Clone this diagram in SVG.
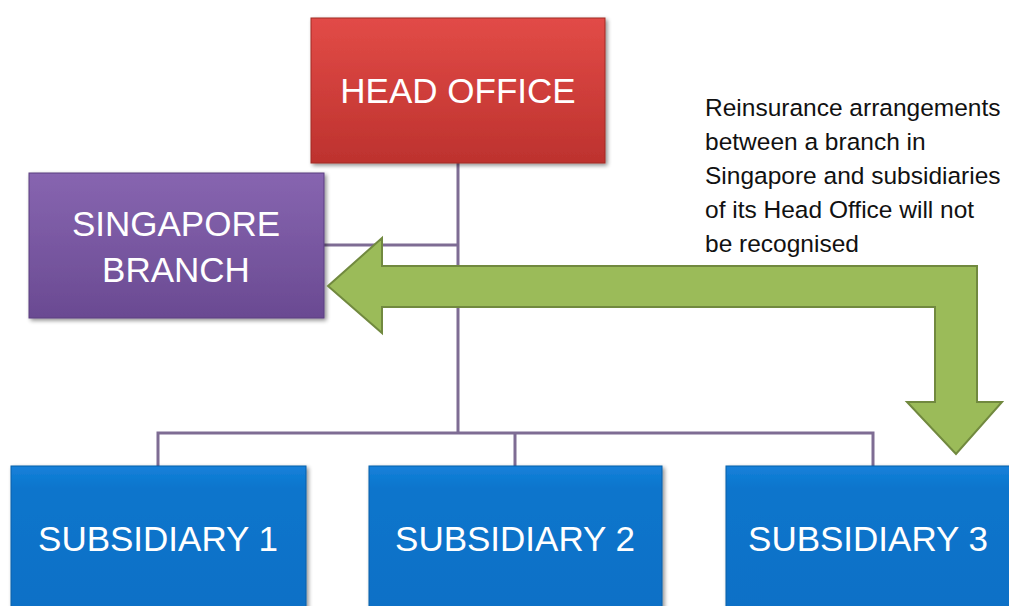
<svg xmlns="http://www.w3.org/2000/svg" width="1009" height="606" viewBox="0 0 1009 606">
<defs>
<linearGradient id="gRed" x1="0" y1="0" x2="0" y2="1"><stop offset="0" stop-color="#E24B47"/><stop offset="1" stop-color="#BD322E"/></linearGradient>
<linearGradient id="gPur" x1="0" y1="0" x2="0" y2="1"><stop offset="0" stop-color="#8765B0"/><stop offset="1" stop-color="#6A4A92"/></linearGradient>
<linearGradient id="gBlue" x1="0" y1="0" x2="0" y2="1"><stop offset="0" stop-color="#1681DA"/><stop offset="0.15" stop-color="#0A75CC"/><stop offset="1" stop-color="#0870C6"/></linearGradient>
<filter id="sh" x="-10%" y="-10%" width="125%" height="125%"><feGaussianBlur in="SourceAlpha" stdDeviation="2"/><feOffset dx="2" dy="2"/><feComponentTransfer><feFuncA type="linear" slope="0.45"/></feComponentTransfer><feMerge><feMergeNode/><feMergeNode in="SourceGraphic"/></feMerge></filter>
</defs>
<style>
.box{filter:url(#sh);stroke-width:1}
.lbl{font-family:"Liberation Sans",Arial,sans-serif;font-size:35px;fill:#FFFFFF;text-anchor:middle}
.conn{fill:none;stroke:#7E6C94;stroke-width:3}
.note{font-family:"Liberation Sans",Arial,sans-serif;font-size:24.5px;fill:#111111}
</style>
<rect width="1009" height="606" fill="#FFFFFF"/>
<g id="connectors">
<path class="conn" d="M458 163 V433 M324 245 H458 M158 466 V433 H873 V466 M515 433 V466"/>
</g>
<g id="head-office">
<rect class="box" x="311" y="18" width="294" height="145" fill="url(#gRed)" stroke="#A02A27"/>
<text class="lbl" x="458" y="103">HEAD OFFICE</text>
</g>
<g id="singapore-branch">
<rect class="box" x="29" y="173" width="295" height="145" fill="url(#gPur)" stroke="#5B3F80"/>
<text class="lbl" x="176" y="236">SINGAPORE</text>
<text class="lbl" x="176" y="282">BRANCH</text>
</g>
<g id="subsidiary-1">
<rect class="box" x="11" y="466" width="295" height="150" fill="url(#gBlue)" stroke="#0A5FA8"/>
<text class="lbl" x="158" y="551">SUBSIDIARY 1</text>
</g>
<g id="subsidiary-2">
<rect class="box" x="369" y="466" width="293" height="150" fill="url(#gBlue)" stroke="#0A5FA8"/>
<text class="lbl" x="515" y="551">SUBSIDIARY 2</text>
</g>
<g id="subsidiary-3">
<rect class="box" x="726" y="466" width="294" height="150" fill="url(#gBlue)" stroke="#0A5FA8"/>
<text class="lbl" x="868" y="551">SUBSIDIARY 3</text>
</g>
<g id="arrow">
<polygon points="328,286 382,238 382,266 977,266 977,402 1002,402 956,454 907,402 935,402 935,307 382,307 382,333" fill="#9BBB59" stroke="#71893F" stroke-width="2" stroke-linejoin="miter"/>
</g>
<g id="note">
<text class="note" x="705" y="116">Reinsurance arrangements</text>
<text class="note" x="705" y="150">between a branch in</text>
<text class="note" x="705" y="184">Singapore and subsidiaries</text>
<text class="note" x="705" y="218">of its Head Office will not</text>
<text class="note" x="705" y="252">be recognised</text>
</g>
</svg>
